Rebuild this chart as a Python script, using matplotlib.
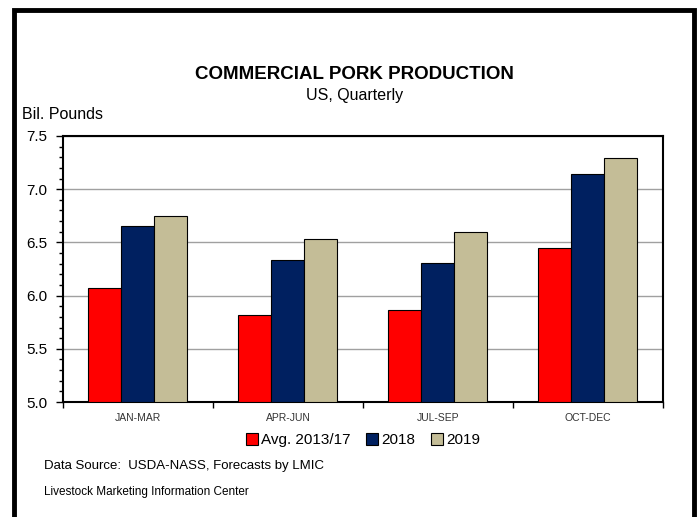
import matplotlib
matplotlib.use("Agg")
import matplotlib.pyplot as plt
import numpy as np
from matplotlib.patches import Rectangle
from matplotlib.ticker import MultipleLocator

# quarterly pork production, billion pounds
quarters = ["JAN-MAR", "APR-JUN", "JUL-SEP", "OCT-DEC"]
avg_13_17 = [6.07, 5.82, 5.86, 6.45]
y2018 = [6.65, 6.33, 6.31, 7.14]
y2019 = [6.75, 6.53, 6.60, 7.29]
series_labels = ["Avg. 2013/17", "2018", "2019"]
series_colors = ["#FF0000", "#002060", "#C4BD97"]

plt.rcParams["font.family"] = ["Liberation Sans", "DejaVu Sans"]

fig = plt.figure(figsize=(7, 5.17), dpi=100)
ax = fig.add_axes([0.09, 0.2224, 0.857, 0.5146])

x = np.arange(len(quarters))
w = 0.22
for i, (vals, lab, col) in enumerate(zip([avg_13_17, y2018, y2019], series_labels, series_colors)):
    ax.bar(x + (i - 1) * w, np.array(vals) - 5.0, w, bottom=5.0, color=col,
           edgecolor="black", linewidth=0.8, label=lab, zorder=3)

ax.set_xlim(-0.5, len(quarters) - 0.5)
ax.set_ylim(5.0, 7.5)
ax.yaxis.set_major_locator(MultipleLocator(0.5))
ax.yaxis.set_minor_locator(MultipleLocator(0.1))
ax.yaxis.set_major_formatter(matplotlib.ticker.FormatStrFormatter("%.1f"))
ax.grid(axis="y", color="#A0A0A0", linewidth=1.0, zorder=0)
ax.tick_params(axis="y", which="major", length=5, width=1, direction="out", labelsize=11, pad=6)
ax.tick_params(axis="y", which="minor", length=3, width=1, direction="out")

# category labels centred, ticks at group boundaries
ax.set_xticks(x)
ax.set_xticklabels(quarters, fontsize=7.5, color="#333333")
ax.tick_params(axis="x", which="major", length=0, pad=8)
ax.set_xticks(np.arange(-0.5, len(quarters)), minor=True)
ax.tick_params(axis="x", which="minor", length=4, width=1, direction="out")
for s in ax.spines.values():
    s.set_linewidth(1.5)

ax.legend(loc="upper center", bbox_to_anchor=(0.5, -0.065), ncol=3, frameon=False,
          fontsize=11, handlelength=0.8, handleheight=0.8, handletextpad=0.2,
          columnspacing=1.0)

fig.text(0.506, 0.855, "COMMERCIAL PORK PRODUCTION", ha="center", va="center",
         fontsize=13.5, fontweight="bold")
fig.text(0.506, 0.816, "US, Quarterly", ha="center", va="center", fontsize=11.5)
fig.text(0.031, 0.779, "Bil. Pounds", ha="left", va="center", fontsize=11.5)
fig.text(0.063, 0.098, "Data Source:  USDA-NASS, Forecasts by LMIC", ha="left",
         va="center", fontsize=9.5)
fig.text(0.063, 0.049, "Livestock Marketing Information Center", ha="left",
         va="center", fontsize=8.5)

# thick frame around the chart
fig.patches.append(Rectangle((0.02, -0.05), 0.971, 1.03, transform=fig.transFigure,
                             fill=False, edgecolor="black", linewidth=3.5))

fig.savefig("out.png", dpi=100)
